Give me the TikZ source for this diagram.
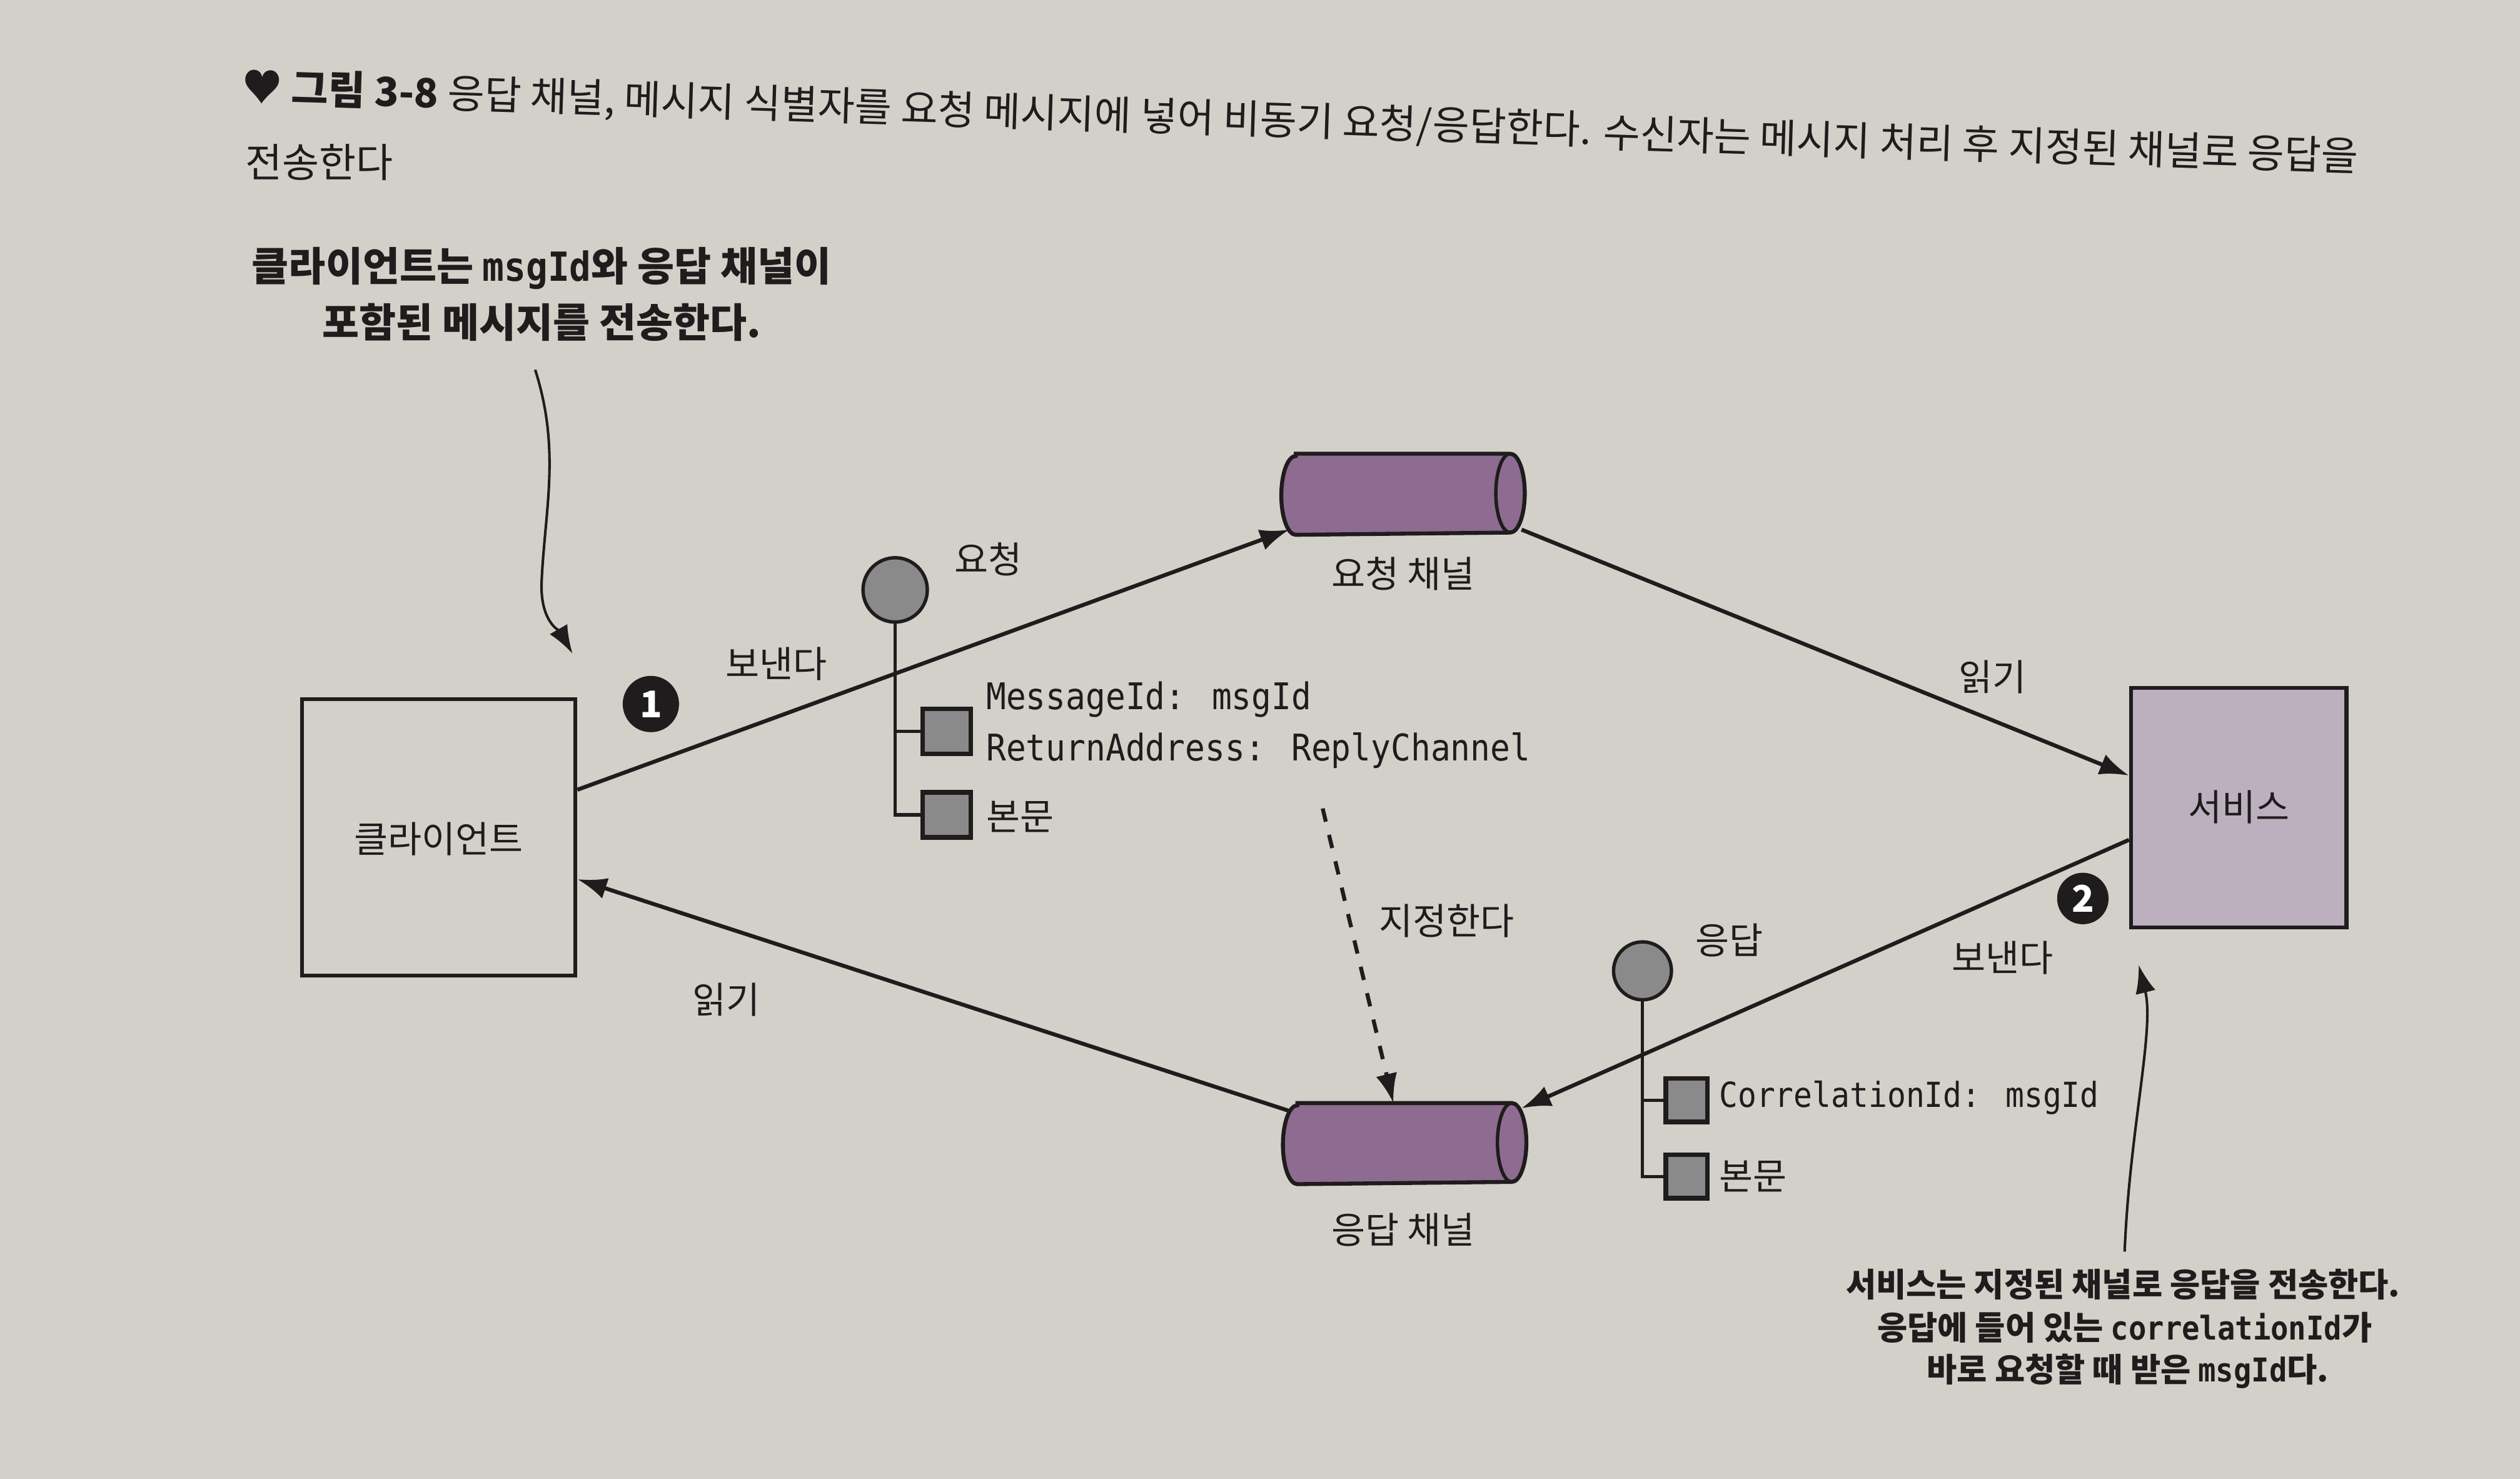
\documentclass[tikz,border=0pt]{standalone}
\usepackage{fontspec}
\setmainfont{Noto Sans CJK KR}
\newfontfamily\codefont{DejaVu Sans Mono}[FakeStretch=0.9]
\usetikzlibrary{shapes.geometric,arrows.meta,calc}
\definecolor{paper}{HTML}{D3D0C9}
\definecolor{chan}{HTML}{8E6B90}
\definecolor{svc}{HTML}{BCB0BE}
\definecolor{msgfill}{HTML}{8A8A8A}
\definecolor{ink}{HTML}{1E1C1C}
\tikzset{
  lbl/.style={font=\fontsize{6.5}{7}\selectfont, inner sep=0pt, text=ink},
  code/.style={font=\codefont\fontsize{6.5}{7}\selectfont, inner sep=0pt, anchor=west, text=ink},
  box/.style={rectangle, draw=ink, line width=0.7pt, inner sep=0pt},
  chanbox/.style={rectangle, minimum width=1.5cm, minimum height=0.49cm, inner sep=0pt},
  conn/.style={draw=ink, line width=0.7pt, -{Latex[length=5.2pt,width=3.8pt]}},
  noteline/.style={draw=ink, line width=0.45pt, -{Latex[length=5pt,width=3.6pt]}},
  msgdot/.style={circle, draw=ink, fill=msgfill, line width=0.6pt, inner sep=0pt},
  field/.style={rectangle, draw=ink, fill=msgfill, line width=0.8pt, inner sep=0pt},
  num/.style={circle, fill=ink, text=white, minimum size=0.35cm, inner sep=0pt,
    font=\bfseries\fontsize{6.5}{7}\selectfont},
  note/.style={align=center, inner sep=0pt, text=ink},
  note2/.style={inner sep=0pt, text=ink, font=\bfseries\fontsize{5.8}{7}\selectfont},
  capt/.style={anchor=west, inner sep=0pt, text=ink, font=\fontsize{7.1}{8}\selectfont, rotate=-1.8},
}
\newcommand\drawchan[1]{%
  \filldraw[fill=chan, draw=ink, line width=0.7pt]
    ([xshift=0.09cm]#1.north west) -- ([xshift=-0.09cm]#1.north east)
    arc[start angle=90, end angle=-90, x radius=0.09cm, y radius=0.245cm]
    -- ([xshift=0.09cm]#1.south west)
    arc[start angle=270, end angle=90, x radius=0.09cm, y radius=0.245cm] -- cycle;
  \draw[draw=ink, line width=0.6pt] ([xshift=-0.09cm]#1.north east)
    arc[start angle=90, end angle=270, x radius=0.09cm, y radius=0.245cm];
}
\begin{document}
\begin{tikzpicture}[x=0.01cm, y=-0.01cm]
\fill[paper] (0,0) rectangle (1568,920);
\useasboundingbox (0,0) rectangle (1568,920);

% caption (line 1 set in three tilted pieces)
\node[capt] (cap1a) at (150,55) {{\bfseries ♥ 그림 3-8} 응답 채널, 메시지 식별자를};
\node[capt] (cap1b) at (560,68.2) {요청 메시지에 넣어 비동기 요청/응답한다.};
\node[capt] (cap1c) at (997,82.2) {수신자는 메시지 처리 후 지정된 채널로 응답을};
\node[capt, rotate=1.8] (cap2) at (152,101) {전송한다};

% annotation 1
\node[note, font=\bfseries\fontsize{7.1}{10}\selectfont] (n1) at (337,183)
  {클라이언트는 {\codefont msgId}와 응답 채널이\\포함된 메시지를 전송한다.};

% main boxes
\node[box, minimum width=1.70cm, minimum height=1.72cm] (client) at (273,521) {};
\node[lbl] (clientlbl) at (273,522) {클라이언트};
\node[box, fill=svc, minimum width=1.34cm, minimum height=1.49cm] (svc) at (1393,502.5) {};
\node[lbl] (svclbl) at (1393,502) {서비스};

% channels
\node[chanbox] (reqch) at (873,307.5) {};
\drawchan{reqch}
\node[lbl] (reqchlbl) at (873,357) {요청 채널};
\node[chanbox] (repch) at (874,711.5) {};
\drawchan{repch}
\node[lbl] (repchlbl) at (873,765) {응답 채널};

% request message
\node[msgdot, minimum size=0.40cm] (reqdot) at (557,367) {};
\node[lbl] (reqlbl) at (615,348) {요청};
\node[field, minimum width=0.30cm, minimum height=0.28cm] (f1) at (589,455) {};
\node[field, minimum width=0.30cm, minimum height=0.28cm] (f2) at (589,507) {};
\draw[draw=ink, line width=0.6pt] (reqdot.south) |- (f1.west);
\draw[draw=ink, line width=0.6pt] (reqdot.south) |- (f2.west);
\node[code] (c1) at (613,435) {MessageId: msgId};
\node[code] (c2) at (613,467) {ReturnAddress: ReplyChannel};
\node[lbl, anchor=west] (body1) at (613,508) {본문};

% reply message
\node[msgdot, minimum size=0.36cm] (repdot) at (1022,604) {};
\node[lbl] (replbl) at (1076,585) {응답};
\node[field, minimum width=0.26cm, minimum height=0.27cm] (g1) at (1049.5,684.5) {};
\node[field, minimum width=0.26cm, minimum height=0.27cm] (g2) at (1049.5,732) {};
\draw[draw=ink, line width=0.6pt] (repdot.south) |- (g1.west);
\draw[draw=ink, line width=0.6pt] (repdot.south) |- (g2.west);
\node[code, font=\codefont\fontsize{6.1}{7}\selectfont] (c3) at (1069,683) {CorrelationId: msgId};
\node[lbl, anchor=west] (body2) at (1069,732) {본문};

% numbers
\node[num] (one) at (405,438) {1};
\node[num, minimum size=0.32cm] (two) at (1296,559) {2};

% connectors
\draw[conn] ($(client.north east)!0.33!(client.south east)$) -- ([shift={(5,22)}]reqch.west);
\draw[conn] ([shift={(-2,22)}]reqch.east) -- ([shift={(0,-20)}]svc.west);
\draw[conn] ([shift={(0,20)}]svc.west) -- ([shift={(-3,-22)}]repch.east);
\draw[conn] ([shift={(5,-20)}]repch.west) -- ([shift={(0,26)}]client.east);
\coordinate (dstart) at (823,503);
\draw[conn, dash pattern=on 2.4pt off 2.4pt] (dstart) -- ([shift={(-7,0)}]repch.north);

% connector labels
\node[lbl] (send1) at (483,413) {보낸다};
\node[lbl] (read1) at (1240,421) {읽기};
\node[lbl] (assign) at (900,573) {지정한다};
\node[lbl] (send2) at (1246,596) {보낸다};
\node[lbl] (read2) at (452,622) {읽기};

% annotation 2
\node[note2] (n2a) at (1321,799) {서비스는 지정된 채널로 응답을 전송한다.};
\node[note2] (n2b) at (1322,826) {응답에 들어 있는 {\codefont correlationId}가};
\node[note2] (n2c) at (1324,853) {바로 요청할 때 받은 {\codefont msgId}다.};

% annotation arrows
\draw[noteline] ([shift={(-4,17)}]n1.south) .. controls +(16,50) and +(2,-45) .. (337,362)
  .. controls +(-1,25) and +(-8,-14) .. ([shift={(-3,-27)}]client.north east);
\draw[noteline] ([shift={(1,-10)}]n2a.north) .. controls +(3,-75) and +(10,40) .. ([shift={(6,22)}]svc.south west);
\end{tikzpicture}
\end{document}
